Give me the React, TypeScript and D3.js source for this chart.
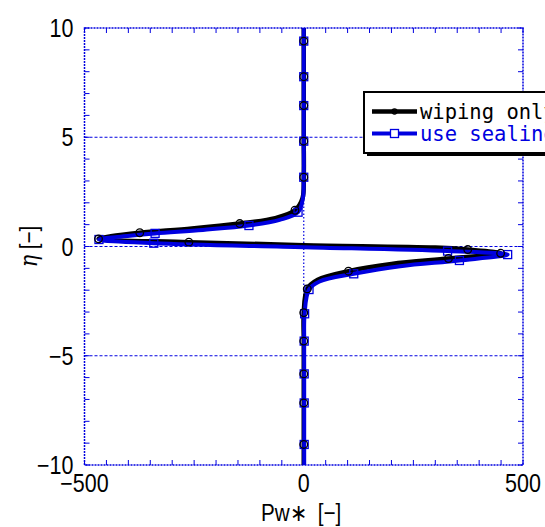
import React from "react";
import * as d3 from "d3";

// wiping only (black, circles)
const pwWipe = [0, 0, 0, 0, 0, 0, -3, -20, -65, -146, -255, -374, -440, -468, -262, 0, 300, 374, 449, 330, 200, 102, 32, 8, 0, 0, 0, 0, 0, 0];
const etaWipe = [10, 9.4, 7.77, 6.45, 4.82, 3.17, 2.2, 1.66, 1.3, 1.05, 0.82, 0.63, 0.47, 0.35, 0.2, 0.06, -0.05, -0.14, -0.31, -0.55, -0.8, -1.13, -1.52, -1.94, -3.03, -4.33, -5.83, -7.16, -9.06, -10];
const markWipe = [0, 1, 1, 1, 1, 1, 0, 1, 0, 1, 0, 1, 0, 1, 1, 0, 0, 1, 1, 1, 0, 1, 0, 1, 1, 1, 1, 1, 1, 0];

// use sealing (blue, squares)
const pwSeal = [0, 0, 0, 0, 0, 0, -2, -13, -55, -125, -230, -339, -425, -467, -342, 0, 328, 465, 355, 220, 114, 36, 12, 2, 1, 1, 1, 1, 1];
const etaSeal = [10, 9.4, 7.77, 6.45, 4.82, 3.17, 2.2, 1.57, 1.22, 0.96, 0.76, 0.6, 0.44, 0.32, 0.15, -0.03, -0.21, -0.37, -0.64, -0.9, -1.25, -1.6, -1.97, -3.08, -4.33, -5.83, -7.16, -9.06, -10];
const markSeal = [0, 1, 1, 1, 1, 1, 0, 1, 0, 1, 0, 1, 0, 1, 1, 0, 1, 1, 1, 0, 1, 0, 1, 1, 1, 1, 1, 1, 0];

const xTickLabels = [-500, 0, 500];
const yTickLabels = [-10, -5, 0, 5, 10];
const legendLabels = ["wiping only", "use sealing"];

const BLUE = "#0000e0";
const SX = 0.86;

export default function App() {
  const W = 545, H = 527;
  const L = 84.5, R = 523, T = 28, B = 465;
  const x = d3.scaleLinear().domain([-500, 500]).range([L, R]);
  const y = d3.scaleLinear().domain([-10, 10]).range([B, T]);

  const line = d3
    .line<[number, number]>()
    .x((d) => x(d[0]))
    .y((d) => y(d[1]))
    .curve(d3.curveCatmullRom.alpha(0.5));

  const wipe: [number, number][] = pwWipe.map((p, i) => [p, etaWipe[i]]);
  const seal: [number, number][] = pwSeal.map((p, i) => [p, etaSeal[i]]);

  const xMinor = d3.range(-500, 501, 50);
  const yMinor = d3.range(-10, 11, 1);
  const tl = 5;
  const numFont = "'Liberation Sans', Arial, sans-serif";
  const monoFont = "'DejaVu Sans Mono', 'Liberation Mono', monospace";
  const fmt = (v: number) => (v < 0 ? "\u2212" + Math.abs(v) : String(v));

  return (
    <svg width={W} height={H} style={{ position: "absolute", left: 0, top: 0, background: "#fff" }}>
      <defs>
        <clipPath id="plot">
          <rect x={L} y={T} width={R - L} height={B - T} />
        </clipPath>
      </defs>
      {/* grid */}
      {yTickLabels.filter((v) => v > -10 && v < 10).map((v) => (
        <line key={"gy" + v} x1={L} x2={R} y1={y(v)} y2={y(v)} stroke={BLUE} strokeWidth={1} strokeDasharray="3,2" />
      ))}
      {xTickLabels.filter((v) => v > -500 && v < 500).map((v) => (
        <line key={"gx" + v} x1={x(v)} x2={x(v)} y1={T} y2={B} stroke={BLUE} strokeWidth={1.2} strokeDasharray="1.5,2" />
      ))}
      {/* ticks */}
      {xMinor.map((v) => (
        <g key={"tx" + v}>
          <line x1={x(v)} x2={x(v)} y1={B} y2={B - tl} stroke={BLUE} strokeWidth={1} />
          <line x1={x(v)} x2={x(v)} y1={T} y2={T + tl} stroke={BLUE} strokeWidth={1} />
        </g>
      ))}
      {yMinor.map((v) => (
        <g key={"ty" + v}>
          <line x1={L} x2={L + tl} y1={y(v)} y2={y(v)} stroke={BLUE} strokeWidth={1} />
          <line x1={R} x2={R - tl} y1={y(v)} y2={y(v)} stroke={BLUE} strokeWidth={1} />
        </g>
      ))}
      {/* frame */}
      <rect x={L} y={T} width={R - L} height={B - T} fill="none" stroke={BLUE} strokeWidth={1.5} strokeDasharray="2,1" />

      {/* data */}
      <g clipPath="url(#plot)">
        <path d={line(wipe) || ""} fill="none" stroke="#000" strokeWidth={4.5} strokeLinejoin="round" />
        <path d={line(seal) || ""} fill="none" stroke={BLUE} strokeWidth={4} strokeLinejoin="round" />
        {seal.map((d, i) =>
          markSeal[i] ? (
            <rect key={"s" + i} x={x(d[0]) - 4} y={y(d[1]) - 4} width={8} height={8} fill="none" stroke={BLUE} strokeWidth={1.3} />
          ) : null
        )}
        {wipe.map((d, i) =>
          markWipe[i] ? (
            <circle key={"c" + i} cx={x(d[0])} cy={y(d[1])} r={3.8} fill="none" stroke="#000" strokeWidth={1.3} />
          ) : null
        )}
      </g>

      {/* tick labels */}
      {xTickLabels.map((v) => (
        <text key={"lx" + v} transform={`translate(${x(v)},${B + 27}) scale(${SX},1)`} textAnchor="middle" fontFamily={numFont} fontSize={25} fill="#000">
          {fmt(v)}
        </text>
      ))}
      {yTickLabels.map((v) => (
        <text key={"ly" + v} transform={`translate(${L - 11},${y(v) + 9}) scale(${SX},1)`} textAnchor="end" fontFamily={numFont} fontSize={25} fill="#000">
          {fmt(v)}
        </text>
      ))}
      {/* axis titles */}
      <text transform={`translate(${x(-6)},521) scale(${SX},1)`} textAnchor="middle" fontFamily={numFont} fontSize={24} fill="#000">
        {"Pw\u2217\u00a0\u00a0[\u2212]"}
      </text>
      <text transform={`translate(31,${y(0)}) rotate(-90) scale(${SX},1)`} textAnchor="middle" dominantBaseline="middle" fontFamily={numFont} fontSize={24} fill="#000">
        <tspan fontStyle="italic" fontFamily="'DejaVu Serif', serif">η</tspan>{"\u00a0[\u2212]"}
      </text>

      {/* legend */}
      <g>
        <rect x={367} y={95} width={200} height={61} fill="#000" />
        <rect x={364} y={92} width={200} height={61} fill="#fff" stroke="#000" strokeWidth={2} />
        <line x1={372} x2={417} y1={111.5} y2={111.5} stroke="#000" strokeWidth={4.5} />
        <circle cx={394.5} cy={111.5} r={2.5} fill="none" stroke="#000" strokeWidth={1.3} />
        <text x={420} y={118.5} fontFamily={monoFont} fontSize={20.5} fill="#000">{legendLabels[0]}</text>
        <line x1={372} x2={417} y1={133.5} y2={133.5} stroke={BLUE} strokeWidth={4} />
        <rect x={390.5} y={129.5} width={8} height={8} fill="#fff" stroke={BLUE} strokeWidth={1.3} />
        <text x={420} y={140.5} fontFamily={monoFont} fontSize={20.5} fill={BLUE}>{legendLabels[1]}</text>
      </g>
    </svg>
  );
}
